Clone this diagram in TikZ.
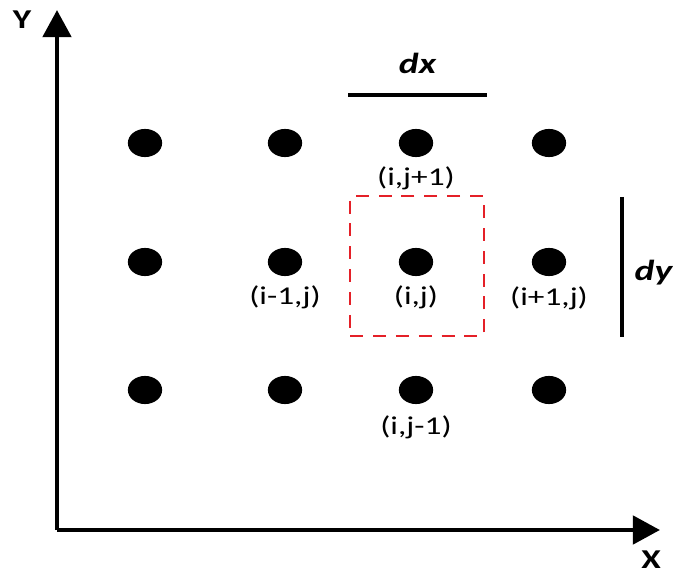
\documentclass[tikz,border=0pt]{standalone}
\usepackage{fontspec}
\setsansfont{Carlito}
\usetikzlibrary{positioning,arrows.meta,shapes.geometric}
\definecolor{cellred}{RGB}{228,32,40}
% the reference text is stretched sideways
\newcommand{\wide}[1]{\scalebox{1.3}[1]{#1}}

\begin{document}
\begin{tikzpicture}[x=0.02cm, y=-0.02cm,
    every node/.style={font=\sffamily\fontsize{14.6}{17}\selectfont},
    dot/.style={ellipse,fill=black,inner sep=0pt,minimum width=19.5pt,minimum height=16pt},
    lab/.style={inner sep=0pt},
    axis/.style={line width=2.8pt,-{Triangle[length=15.5pt,width=16pt]}},
    bar/.style={line width=2.4pt},
    big/.style={inner sep=0pt,font=\sffamily\bfseries\itshape\fontsize{16.5}{20}\selectfont}]
  \useasboundingbox (0,0) rectangle (673,574);
  % axes
  \coordinate (origin) at (57,530);
  \coordinate (ytip) at (57,10);
  \coordinate (xtip) at (660,530);
  \draw[axis] (origin) -- (ytip);
  \draw[axis] (origin) -- (xtip);
  \node[font=\sffamily\bfseries\fontsize{15.5}{18}\selectfont] (ylab) at (22,20) {\wide{Y}};
  \node[font=\sffamily\bfseries\fontsize{15.5}{18}\selectfont] (xlab) at (651,560) {\wide{X}};
  % grid points
  \foreach \x/\i in {145/1,285/2,416/3,549/4}
    \foreach \y/\j in {143/3,262/2,390/1}
      \node[dot] (d\i\j) at (\x,\y) {};
  % stencil cell
  \node[draw=cellred,dash pattern=on 7.4pt off 5.6pt,line width=1.1pt,
        minimum width=76pt,minimum height=79.5pt] (cell) at (417,266) {};
  \node[lab,below=5pt of d33] (l33) {\wide{(i,j+1)}};
  \node[lab,below=5pt of d22] (l22) {\wide{(i-1,j)}};
  \node[lab,below=5pt of d32] (l32) {\wide{(i,j)}};
  \node[lab,below=5.5pt of d42] (l42) {\wide{(i+1,j)}};
  \node[lab,below=6pt of d31] (l31) {\wide{(i,j-1)}};
  % spacings
  \coordinate (dxa) at (348,95);
  \coordinate (dxb) at (487,95);
  \draw[bar] (dxa) -- node[above=11pt,big] (dxlab) {\wide{dx}} (dxb);
  \coordinate (dya) at (622,197);
  \coordinate (dyb) at (622,337);
  \draw[bar] (dya) -- node[right=6pt,big,yshift=-3pt] (dylab) {\wide{dy}} (dyb);
\end{tikzpicture}
\end{document}
